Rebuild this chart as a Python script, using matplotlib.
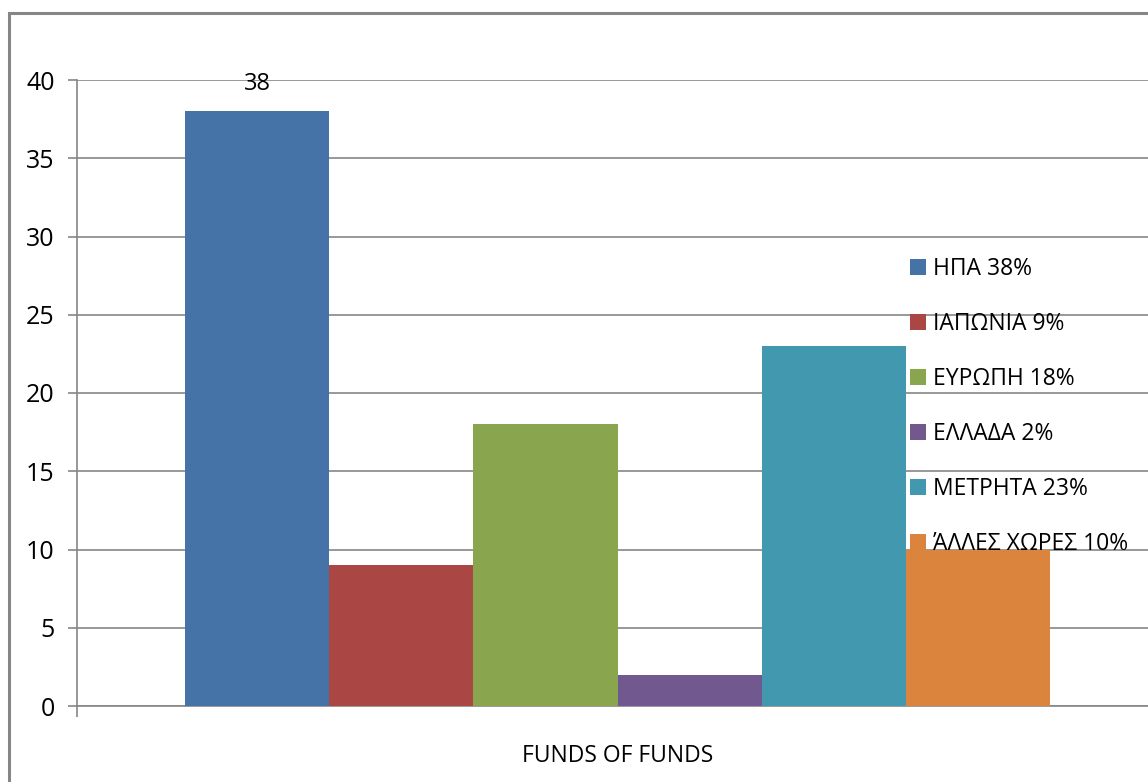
import numpy as np
import matplotlib.pyplot as plt
from matplotlib.patches import Rectangle

# fund allocation by region (%)
regions = ["ΗΠΑ", "ΙΑΠΩΝΙΑ", "ΕΥΡΩΠΗ", "ΕΛΛΑΔΑ", "ΜΕΤΡΗΤΑ", "ΆΛΛΕΣ ΧΩΡΕΣ"]
shares = [38, 9, 18, 2, 23, 10]
colors = ["#4572A7", "#AA4643", "#89A54E", "#71588F", "#4198AF", "#DB843D"]
category = "FUNDS OF FUNDS"
yticks = [0, 5, 10, 15, 20, 25, 30, 35, 40]

plt.rcParams['font.family'] = ['Open Sans', 'DejaVu Sans']
grey = "#868686"

fig = plt.figure(figsize=(11.48, 7.82), dpi=100)
ax = fig.add_axes([77 / 1148, 76 / 782, 1081 / 1148, 626 / 782])

bars = []
for i, (name, val, c) in enumerate(zip(regions, shares, colors)):
    b = ax.bar(i, val, width=1.0, align='edge', color=c, zorder=3,
               label=f"{name} {val}%")
    bars.append(b)

ax.bar_label(bars[0], padding=11, fontsize=17)

ax.set_xlim(-0.75, 6.75)
ax.set_ylim(0, 40)
ax.set_yticks(yticks)
ax.set_xticks([3.0])
ax.set_xticklabels([category])
ax.set_xticks([-0.75, 6.75], minor=True)

ax.grid(axis='y', color=grey, linewidth=1.2, zorder=0)
for side in ['top', 'right']:
    ax.spines[side].set_visible(False)
for side in ['left', 'bottom']:
    ax.spines[side].set_color(grey)
    ax.spines[side].set_linewidth(1.2)

ax.tick_params(axis='y', length=6.5, width=1.2, color=grey, pad=9.5, labelsize=18)
ax.tick_params(axis='x', which='major', length=0, pad=27, labelsize=16.5)
ax.tick_params(axis='x', which='minor', length=8, width=1.2, color=grey)

fig.legend(handles=bars, loc='upper left',
           bbox_to_anchor=(889 / 1148, 1 - 236 / 782),
           frameon=False, fontsize=16.5, handlelength=0.7, handleheight=0.7,
           handletextpad=0.3, labelspacing=1.36)

# outer chart frame
fig.patches.append(Rectangle((9 / 1148, -0.1), 2, 1 - 13 / 782 + 0.1,
                             transform=fig.transFigure, fill=False,
                             edgecolor=grey, linewidth=2.2))

fig.savefig('out.png', dpi=100)
